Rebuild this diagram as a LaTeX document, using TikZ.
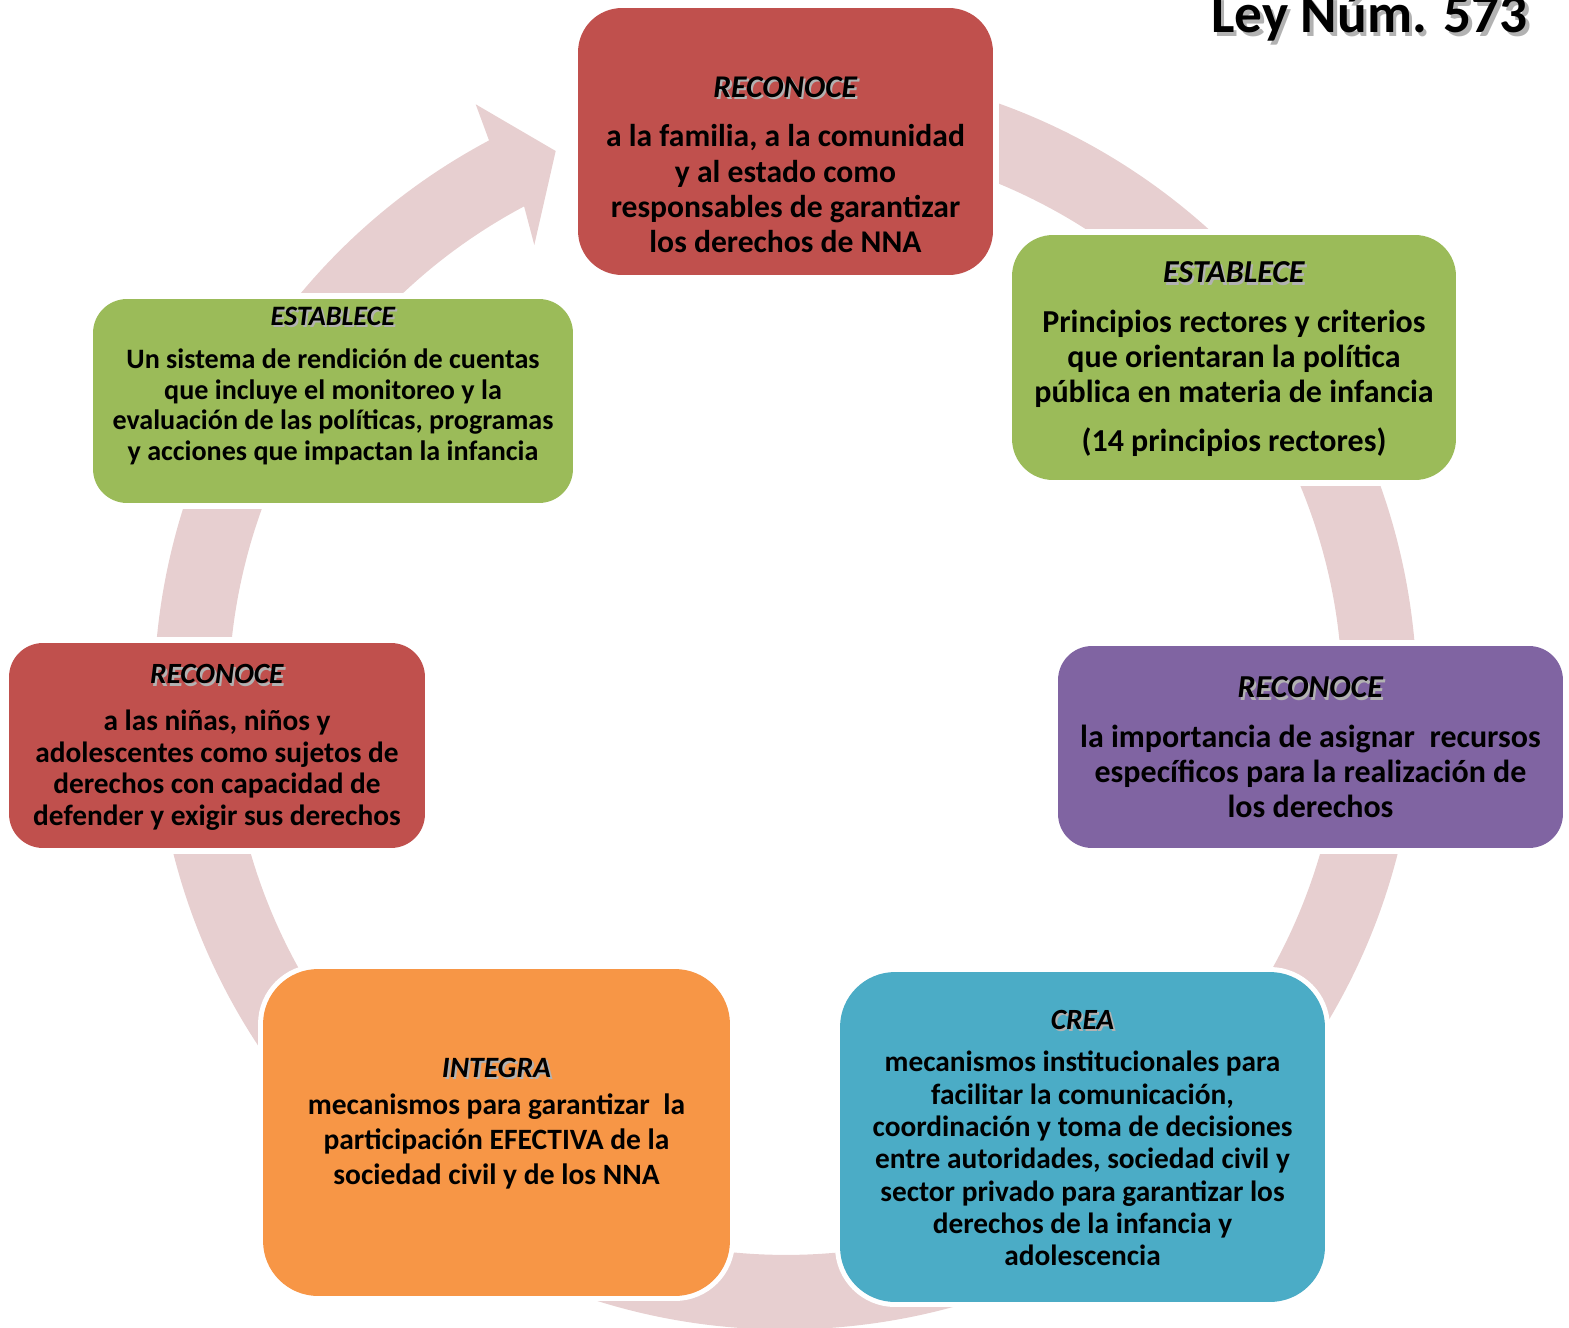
\documentclass[tikz,border=0pt]{standalone}
\usepackage{fontspec}
\setmainfont{Carlito}
\usepackage{tikz}
\usepackage{xcolor}
\usetikzlibrary{backgrounds}
\definecolor{RedBox}{HTML}{C0504D}
\definecolor{GreenBox}{HTML}{9BBB59}
\definecolor{PurpleBox}{HTML}{8064A2}
\definecolor{TealBox}{HTML}{4BACC6}
\definecolor{OrangeBox}{HTML}{F79646}
\definecolor{RingPink}{HTML}{E7CFD0}
\newcommand{\shadowtext}[1]{\makebox[0pt][l]{\hspace{1.2pt}\raisebox{-1.2pt}{\textcolor{black!30}{#1}}}#1}
\newcommand{\heading}[1]{\shadowtext{\textit{#1}}}

\begin{document}
\begin{tikzpicture}[x=0.02cm, y=-0.02cm]
                % Define the styles for boxes, texts and the ring
                \tikzstyle{box}=[inner sep=0pt, draw=none];
                \tikzstyle{halo}=[preaction={draw=white, line width=5.7pt}];
                \tikzstyle{txt}=[anchor=north, inner sep=0pt, align=center, text=black];
                \tikzstyle{ring}=[fill=RingPink];
                \tikzstyle{cutout}=[fill=white];

                \clip (0,0) rectangle (1569,1328);

                % Center of the circular arrow
                \coordinate (C) at (785.5,698);

                % Draw the seven boxes
                \node[box, fill=RedBox, rounded corners=0.88cm, minimum width=8.30cm, minimum height=5.34cm] (reco1) at (785.5,141.5) {};
                \node[box, fill=GreenBox, rounded corners=0.82cm, minimum width=8.88cm, minimum height=4.90cm] (esta1) at (1234,357.5) {};
                \node[box, fill=PurpleBox, rounded corners=0.68cm, minimum width=10.10cm, minimum height=4.04cm] (reco2) at (1310.5,747) {};
                \node[box, halo, fill=TealBox, rounded corners=1.1cm, minimum width=9.70cm, minimum height=6.60cm] (crea) at (1082.5,1137) {};
                \node[box, halo, fill=OrangeBox, rounded corners=1.1cm, minimum width=9.34cm, minimum height=6.54cm] (integra) at (496.5,1132.5) {};
                \node[box, fill=RedBox, rounded corners=0.68cm, minimum width=8.32cm, minimum height=4.10cm] (reco3) at (217,745.5) {};
                \node[box, fill=GreenBox, rounded corners=0.68cm, minimum width=9.60cm, minimum height=4.08cm] (esta2) at (333,401) {};

                % Texts of the boxes
                \node[txt, font=\fontsize{18}{20}\selectfont\bfseries] (reco1txt) at (785.5,76.6) {\heading{RECONOCE}\\[8pt]
                    a la familia, a la comunidad\\ y al estado como\\ responsables de garantizar\\ los derechos de NNA};
                \node[txt, font=\fontsize{18.2}{20}\selectfont\bfseries] (esta1txt) at (1234,261.6) {\heading{ESTABLECE}\\[8pt]
                    Principios rectores y criterios\\ que orientaran la política\\ pública en materia de infancia\\[8pt] (14 principios rectores)};
                \node[txt, font=\fontsize{18.2}{19.8}\selectfont\bfseries] (reco2txt) at (1310.5,676.6) {\heading{RECONOCE}\\[8.5pt]
                    la importancia de asignar\ \ recursos\\ específicos para la realización de\\ los derechos};
                \node[txt, font=\fontsize{16.7}{18.4}\selectfont\bfseries] (creatxt) at (1082.5,1009.4) {\heading{CREA}\\[6pt]
                    mecanismos institucionales para\\ facilitar la comunicación,\\ coordinación y toma de decisiones\\ entre autoridades, sociedad civil y\\ sector privado para garantizar los\\ derechos de la infancia y\\ adolescencia};
                \node[txt, font=\fontsize{16.8}{20}\selectfont\bfseries] (integratxt) at (496.5,1057.6) {\heading{INTEGRA}\\[1pt]
                    mecanismos para garantizar\ \ la\\ participación EFECTIVA de la\\ sociedad civil y de los NNA};
                \node[txt, font=\fontsize{16.7}{18.2}\selectfont\bfseries] (reco3txt) at (217,664.4) {\heading{RECONOCE}\\[8pt]
                    a las niñas, niños y\\ adolescentes como sujetos de\\ derechos con capacidad de\\ defender y exigir sus derechos};
                \node[txt, font=\fontsize{16}{17.5}\selectfont\bfseries] (esta2txt) at (333,306.5) {\heading{ESTABLECE}\\[7pt]
                    Un sistema de rendición de cuentas\\ que incluye el monitoreo y la\\ evaluación de las políticas, programas\\ y acciones que impactan la infancia};

                % Title in the corner
                \node[anchor=base east, inner sep=0pt, font=\fontsize{31.5}{34}\selectfont\bfseries] (ley) at (1528,33)
                    {\makebox[0pt][l]{\hspace{2pt}\raisebox{-2pt}{\textcolor{black!30}{Ley Núm. 573}}}Ley Núm. 573};

                % Circular arrow behind the boxes
                \begin{scope}[on background layer]
                    \fill[ring] (C) ++(-95:631.5) arc[start angle=-95, end angle=242, radius=631.5]
                        -- (475.7,104.3) -- (555.7,151) -- (534.3,245)
                        -- ([shift={(C)}]242:556.8) arc[start angle=242, end angle=-95, radius=556.8] -- cycle;
                    % Cut the ring around the boxes
                    \foreach \b in {reco1, esta1, reco2, reco3, esta2}
                        \fill[cutout] ([shift={(-6,6)}]\b.south west) rectangle ([shift={(6,-6)}]\b.north east);
                \end{scope}
            \end{tikzpicture}
\end{document}
